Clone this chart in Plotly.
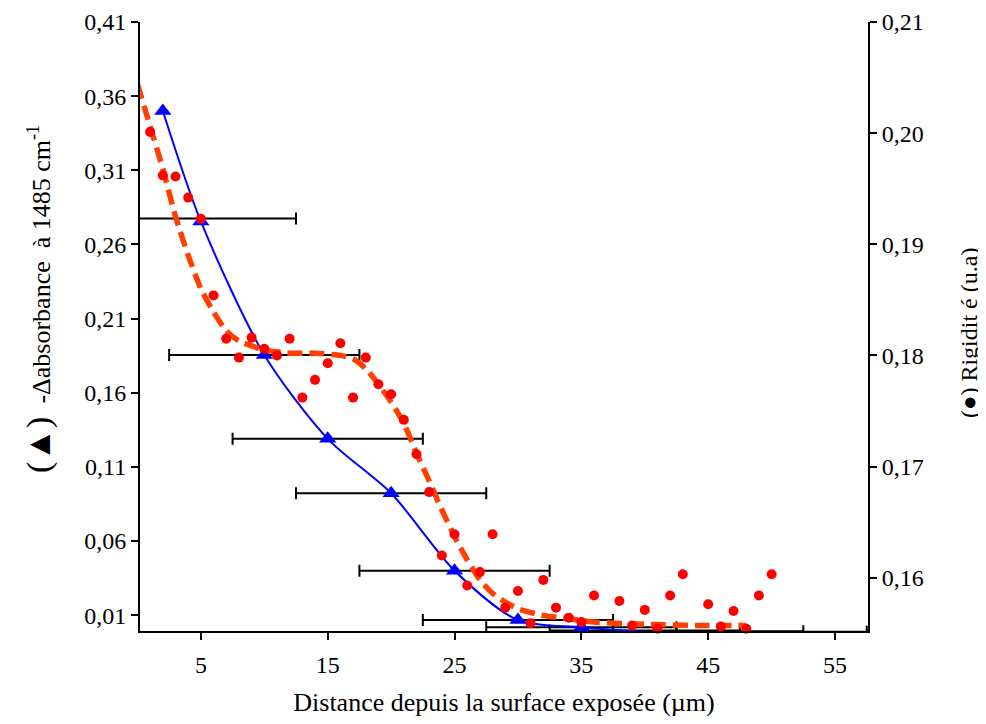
import plotly.graph_objects as go

# ---- data ----
# Blue triangles: -Δabsorbance à 1485 cm-1 (left axis)
abs_x = [2, 5, 10, 15, 20, 25, 30, 35, 40, 45, 50]
abs_y = [0.350, 0.2755, 0.1855, 0.1289, 0.0922, 0.040, 0.0067, 0.0019, -0.0011, -0.0015, -0.0015]
# horizontal error (µm) on the triangles (none on the first one)
err_x = [5, 10, 15, 20, 25, 30, 35, 40, 45, 50]
err_y = [0.2775, 0.1855, 0.1289, 0.0922, 0.040, 0.0067, 0.0019, -0.0003, -0.0008, -0.0012]
err_val = [7.5, 7.5, 7.5, 7.5, 7.5, 7.5, 7.5, 7.5, 7.5, 7.5]

# Red dots: Rigidité (right axis), one every µm
rig_x = list(range(0, 51))
rig_y = [0.2042, 0.2001, 0.1962, 0.1961, 0.1942, 0.1923, 0.1854, 0.1815, 0.1798, 0.1816,
         0.1806, 0.1800, 0.1815, 0.1762, 0.1778, 0.1793, 0.1811, 0.1762, 0.1798, 0.1774,
         0.1765, 0.1742, 0.1711, 0.1677, 0.1620, 0.1639, 0.1593, 0.1605, 0.1639, 0.1573,
         0.1588, 0.1559, 0.1598, 0.1573, 0.1564, 0.1560, 0.1584, 0.1542, 0.1579, 0.1557,
         0.1571, 0.1554, 0.1584, 0.1603, 0.1549, 0.1576, 0.1556, 0.1570, 0.1554, 0.1584,
         0.1603]

# Orange dashed trend of the rigidity
trend_x = [0, 1, 2, 3, 4, 5, 6, 7, 8, 10, 12, 14, 16, 17, 18, 19, 20, 21, 22, 23, 24,
           25, 26, 27, 28, 29, 30, 32, 34, 36, 40, 44, 48]
trend_y = [0.2044, 0.2006, 0.1968, 0.1925, 0.1890, 0.1860, 0.1839, 0.1822, 0.1813, 0.1805,
           0.1802, 0.1802, 0.1800, 0.1797, 0.1788, 0.1774, 0.1758, 0.1739, 0.1712, 0.1687,
           0.1661, 0.1637, 0.1616, 0.1598, 0.1586, 0.1578, 0.1572, 0.1566, 0.1563, 0.1560,
           0.1558, 0.1557, 0.1557]

x_ticks = [5, 15, 25, 35, 45, 55]
left_ticks = [0.01, 0.06, 0.11, 0.16, 0.21, 0.26, 0.31, 0.36, 0.41]
right_ticks = [0.16, 0.17, 0.18, 0.19, 0.20, 0.21]

def comma(v, d):
    return f"{v:.{d}f}".replace(".", ",")

FONT = "Liberation Serif"

fig = go.Figure()

fig.add_trace(go.Scatter(
    x=err_x, y=err_y, mode="markers", yaxis="y", showlegend=False,
    marker=dict(size=1, color="rgba(0,0,0,0)"),
    error_x=dict(type="data", array=err_val, symmetric=True, color="black",
                 thickness=2, width=6),
    cliponaxis=True, hoverinfo="skip"))

fig.add_trace(go.Scatter(
    x=abs_x, y=abs_y, mode="lines+markers", yaxis="y", showlegend=False,
    line=dict(color="#0000FF", width=2, shape="spline", smoothing=0.8),
    marker=dict(symbol="triangle-up", size=15, color="#0000FF"),
    cliponaxis=False))

fig.add_trace(go.Scatter(
    x=trend_x, y=trend_y, mode="lines", yaxis="y2", showlegend=False,
    line=dict(color="#FF4000", width=5.5, dash="15px,7px", shape="spline", smoothing=0.6)))

fig.add_trace(go.Scatter(
    x=rig_x, y=rig_y, mode="markers", yaxis="y2", showlegend=False,
    marker=dict(symbol="circle", size=10, color="#FF0000"),
    cliponaxis=False))

axis_common = dict(showgrid=False, zeroline=False, automargin=False,
                   showline=True, linecolor="black", linewidth=2,
                   ticks="outside", ticklen=7, tickwidth=2, tickcolor="black",
                   ticklabeloverflow="allow",
                   tickfont=dict(family=FONT, size=24, color="black"))

# the page body has an 8px margin, so the figure is sized to the visible area
fig.update_layout(
    template="none",
    width=978, height=716,
    margin=dict(l=132, r=118, t=14, b=93, autoexpand=False),
    paper_bgcolor="white", plot_bgcolor="white",
    font=dict(family=FONT, size=22, color="black"),
    xaxis=dict(
        range=[0.2, 57.6],
        tickvals=x_ticks, ticktext=[str(v) for v in x_ticks],
        ticklabelstandoff=4,
        title=dict(text="Distance depuis la surface exposée (µm)",
                   font=dict(family=FONT, size=26), standoff=16),
        **axis_common,
    ),
    yaxis=dict(
        range=[-0.00067, 0.41],
        tickvals=left_ticks, ticktext=[comma(v, 2) for v in left_ticks],
        **axis_common,
    ),
    yaxis2=dict(
        range=[0.1552, 0.21], overlaying="y", side="right", anchor="x",
        tickvals=right_ticks, ticktext=[comma(v, 2) for v in right_ticks],
        **axis_common,
    ),
    annotations=[
        dict(text="<span style='font-size:34px'>(▲)</span>  -Δabsorbance  à 1485 cm<sup>-1</sup>",
             textangle=-90,
             xref="paper", yref="paper", x=-0.139, y=0.545,
             xanchor="center", yanchor="middle", showarrow=False,
             font=dict(family=FONT, size=26)),
        dict(text="(●) Rigidit é (u.a)",
             textangle=-90,
             xref="paper", yref="paper", x=1.138, y=0.49,
             xanchor="center", yanchor="middle", showarrow=False,
             font=dict(family=FONT, size=24)),
    ],
)

fig.write_html("out.html")
